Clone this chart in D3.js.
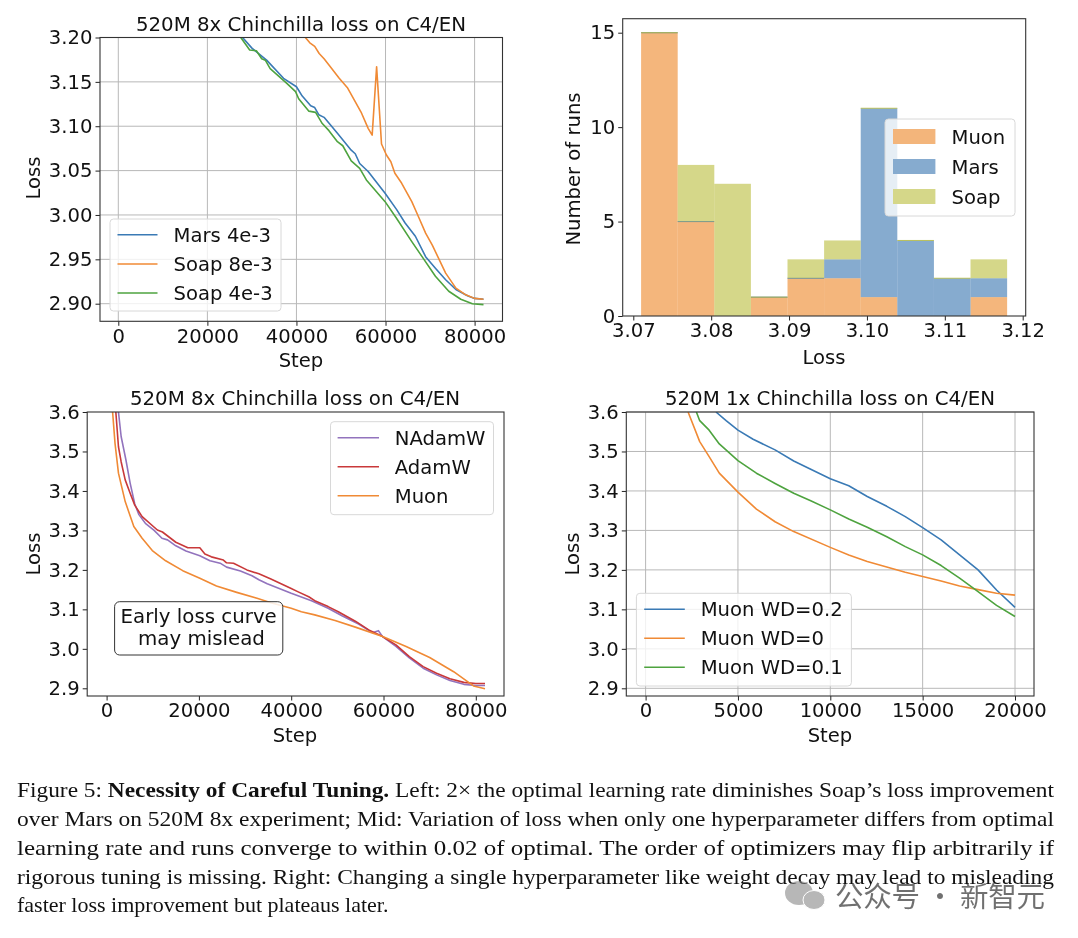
<!DOCTYPE html>
<html><head><meta charset="utf-8">
<script src="https://cdn.jsdelivr.net/npm/d3@7"></script>
<style>html,body{margin:0;padding:0;background:#fff}svg{display:block;filter:blur(0.35px)}text{font-family:"DejaVu Sans",sans-serif;fill:#111}</style>
</head><body><svg id="c" width="1078" height="938"></svg>
<script>
const panelTitles=["520M 8x Chinchilla loss on C4/EN","520M 8x Chinchilla loss on C4/EN","520M 1x Chinchilla loss on C4/EN"];
const stepTicks8x=[0,20000,40000,60000,80000];
const stepTicks1x=[0,5000,10000,15000,20000];
const lossTicksTop=[2.90,2.95,3.00,3.05,3.10,3.15,3.20];
const lossTicksWide=[2.9,3.0,3.1,3.2,3.3,3.4,3.5,3.6];
const histXTicks=[3.07,3.08,3.09,3.10,3.11,3.12];
const histYTicks=[0,5,10,15];
const binEdges=[3.0710,3.0757,3.0804,3.0851,3.0898,3.0945,3.0992,3.1039,3.1086,3.1133,3.1180];
const histMuon=[15,5,0,1,2,2,1,0,0,1];
const histMars=[0,0,0,0,0,1,10,4,2,1];
const histSoap=[0,3,7,0,1,1,0,0,0,1];
const mars4e3=[[27900,3.2],[30000,3.188],[33300,3.1745],[37100,3.154],[40000,3.1445],[41300,3.134],[43200,3.123],[44100,3.121],[45000,3.113],[46200,3.11],[49200,3.092],[52300,3.073],[53200,3.069],[54200,3.058],[56100,3.049],[59900,3.0245],[62500,3.006],[64400,2.991],[66700,2.976],[69000,2.953],[71200,2.94],[73500,2.927],[75800,2.916],[78400,2.909],[80000,2.906],[82000,2.905]];
const soap8e3=[[42000,3.2],[43000,3.194],[44100,3.19],[45100,3.182],[46200,3.176],[47300,3.169],[49600,3.154],[51500,3.143],[53000,3.1295],[54500,3.116],[56100,3.0976],[57000,3.09],[58000,3.167],[59100,3.08],[60200,3.0676],[61200,3.06],[62100,3.047],[63600,3.036],[65900,3.015],[67400,2.998],[69000,2.9795],[70500,2.966],[73500,2.9345],[75800,2.9176],[78000,2.91],[80000,2.906],[82000,2.905]];
const soap4e3=[[27500,3.2],[29500,3.186],[31000,3.185],[32200,3.176],[33000,3.1745],[34100,3.165],[37900,3.148],[39800,3.139],[40500,3.131],[42800,3.117],[44300,3.1156],[45800,3.103],[47300,3.095],[49200,3.0826],[50400,3.078],[52300,3.061],[54200,3.0526],[55700,3.0395],[59900,3.015],[62500,2.996],[65900,2.97],[68200,2.953],[71200,2.931],[74200,2.914],[76900,2.905],[79500,2.9],[82000,2.899]];
const nadamw=[[2570,3.6],[3150,3.538],[4180,3.479],[5100,3.42],[6100,3.367],[7000,3.34],[8400,3.318],[10300,3.3],[12000,3.28],[13200,3.276],[15000,3.261],[17200,3.248],[20200,3.236],[22400,3.223],[24600,3.217],[26000,3.207],[29000,3.197],[31500,3.185],[33000,3.175],[34800,3.165],[40000,3.141],[44400,3.122],[48000,3.103],[51000,3.084],[54600,3.063],[57600,3.041],[58900,3.046],[59800,3.031],[62700,3.006],[65600,2.977],[68600,2.951],[71500,2.934],[74400,2.92],[77400,2.91],[80000,2.907],[82000,2.907]];
const adamw=[[2000,3.6],[2570,3.512],[3150,3.474],[4030,3.428],[5100,3.394],[6100,3.364],[7700,3.335],[11000,3.301],[12100,3.296],[15000,3.27],[17600,3.256],[20200,3.256],[21300,3.24],[22700,3.233],[25300,3.225],[26000,3.218],[27500,3.217],[30400,3.2],[33000,3.19],[35600,3.177],[40000,3.153],[41400,3.145],[43800,3.132],[45100,3.122],[48000,3.107],[50200,3.094],[53900,3.07],[56800,3.048],[59800,3.031],[62700,3.01],[65600,2.98],[68600,2.955],[71500,2.938],[74400,2.924],[77400,2.915],[80000,2.912],[82000,2.912]];
const muon8x=[[1300,3.6],[1830,3.52],[2570,3.445],[4030,3.373],[5900,3.31],[7700,3.28],[9900,3.249],[12800,3.223],[16500,3.198],[20200,3.179],[23800,3.159],[28200,3.143],[32600,3.128],[35600,3.117],[40000,3.103],[42200,3.094],[45100,3.086],[49500,3.072],[53900,3.055],[59800,3.031],[64900,3.006],[70000,2.978],[75200,2.942],[79500,2.906],[82000,2.899]];
const wd02=[[3810,3.6],[4360,3.578],[5000,3.554],[5820,3.531],[7010,3.504],[8020,3.476],[8940,3.455],[10000,3.431],[11000,3.413],[12000,3.386],[13060,3.361],[14060,3.335],[15000,3.307],[16000,3.276],[17000,3.238],[18000,3.2],[19000,3.149],[20000,3.105]];
const wd0=[[2300,3.6],[2930,3.525],[3440,3.487],[3990,3.445],[5000,3.397],[6000,3.354],[7010,3.322],[8020,3.297],[10000,3.257],[11000,3.238],[12000,3.221],[13150,3.206],[14060,3.194],[15000,3.183],[16000,3.172],[17000,3.159],[18000,3.15],[19000,3.141],[20000,3.136]];
const wd01=[[2750,3.6],[2930,3.578],[3440,3.554],[3990,3.519],[5000,3.477],[6000,3.445],[7010,3.419],[8020,3.394],[8940,3.375],[10000,3.352],[11000,3.329],[12000,3.308],[13060,3.284],[14060,3.259],[15000,3.238],[16000,3.211],[17000,3.179],[18000,3.145],[19000,3.11],[20000,3.082]];
const captionLines=[
 [["Figure 5: ",0],["Necessity of Careful Tuning.",1],[" Left: 2× the optimal learning rate diminishes Soap’s loss improvement",0]],
 [["over Mars on 520M 8x experiment; Mid: Variation of loss when only one hyperparameter differs from optimal",0]],
 [["learning rate and runs converge to within 0.02 of optimal. The order of optimizers may flip arbitrarily if",0]],
 [["rigorous tuning is missing. Right: Changing a single hyperparameter like weight decay may lead to misleading",0]],
 [["faster loss improvement but plateaus later.",0]]];
const watermarkText="公众号 · 新智元";

const BLUE="#3a7ab5",ORANGE="#f08a35",GREEN="#4ea33f",PURPLE="#9273bd",RED="#c9393a";
const svg=d3.select("#c");
const defs=svg.append("defs");
const FS=19.6;
function frame(id,b,xs,ys,xt,yt,yf,opts){
  const g=svg.append("g");
  defs.append("clipPath").attr("id",id).append("rect").attr("x",b.l).attr("y",b.t).attr("width",b.r-b.l).attr("height",b.b-b.t);
  if(opts.grid){
    g.append("g").selectAll("line").data(xt).join("line").attr("x1",d=>xs(d)).attr("x2",d=>xs(d)).attr("y1",b.t).attr("y2",b.b).attr("stroke","#b8b8b8").attr("stroke-width",1);
    g.append("g").selectAll("line").data(yt).join("line").attr("x1",b.l).attr("x2",b.r).attr("y1",d=>ys(d)).attr("y2",d=>ys(d)).attr("stroke","#b8b8b8").attr("stroke-width",1);
  }
  const ax=svg.append("g");
  return {g,ax,finish(){
    const a=ax.append("g").attr("transform",`translate(0,${b.b})`).call(d3.axisBottom(xs).tickValues(xt).tickFormat(opts.xf).tickSize(4.5).tickPadding(3));
    const c=ax.append("g").attr("transform",`translate(${b.l},0)`).call(d3.axisLeft(ys).tickValues(yt).tickFormat(yf).tickSize(4.5).tickPadding(3));
    [a,c].forEach(s=>{s.select(".domain").remove();s.selectAll("text").attr("font-size",FS).attr("fill","#111").style("font-family",'"DejaVu Sans"');s.selectAll("line").attr("stroke","#222")});
    ax.append("rect").attr("x",b.l).attr("y",b.t).attr("width",b.r-b.l).attr("height",b.b-b.t).attr("fill","none").attr("stroke","#333").attr("stroke-width",1.1);
    ax.append("text").attr("x",opts.xlx).attr("y",opts.xly).attr("text-anchor","middle").attr("font-size",FS).text(opts.xl);
    ax.append("text").attr("transform",`translate(${opts.ylx},${opts.yly}) rotate(-90)`).attr("text-anchor","middle").attr("font-size",FS).text(opts.yl);
    if(opts.title)ax.append("text").attr("x",opts.tx).attr("y",opts.ty).attr("text-anchor","middle").attr("font-size",19.8).text(opts.title);
  }};
}
function drawLines(p,id,xs,ys,series){
  const line=d3.line().x(d=>xs(d[0])).y(d=>ys(d[1]));
  p.g.append("g").attr("clip-path",`url(#${id})`).selectAll("path").data(series).join("path")
    .attr("d",d=>line(d.v)).attr("fill","none").attr("stroke",d=>d.c).attr("stroke-width",1.6).attr("stroke-linejoin","round");
}
function legendBox(b){
  svg.append("rect").attr("x",b.x).attr("y",b.y).attr("width",b.w).attr("height",b.h).attr("rx",3.5)
    .attr("fill","#fff").attr("fill-opacity",.8).attr("stroke","#d8d8d8").attr("stroke-width",1);
}
function lineLegend(b,items,x0,x1,tx,ys){
  legendBox(b);
  items.forEach((it,i)=>{
    svg.append("line").attr("x1",x0).attr("x2",x1).attr("y1",ys[i]).attr("y2",ys[i]).attr("stroke",it[1]).attr("stroke-width",1.6);
    svg.append("text").attr("x",tx).attr("y",ys[i]+7).attr("font-size",FS).text(it[0]);
  });
}

// Panel 1
{
 const b={l:100,r:502.5,t:37.5,b:321.3};
 const xs=d3.scaleLinear().domain([0,80000]).range([118.3,474.6]);
 const ys=d3.scaleLinear().domain([2.9,3.2]).range([303.7,37.5]);
 const p=frame("p1",b,xs,ys,stepTicks8x,lossTicksTop,d3.format(".2f"),{grid:1,xf:d3.format("d"),xl:"Step",xlx:301,xly:367,yl:"Loss",ylx:40,yly:178,title:panelTitles[0],tx:301,ty:31});
 drawLines(p,"p1",xs,ys,[{v:mars4e3,c:BLUE},{v:soap8e3,c:ORANGE},{v:soap4e3,c:GREEN}]);
 p.finish();
 lineLegend({x:110,y:219,w:171,h:92},[["Mars 4e-3",BLUE],["Soap 8e-3",ORANGE],["Soap 4e-3",GREEN]],117.5,157.5,173.5,[234.7,264,293]);
}
// Panel 2
{
 const b={l:622.7,r:1025.7,t:18.7,b:316};
 const xs=d3.scaleLinear().domain([3.07,3.12]).range([633.3,1022.7]);
 const ys=d3.scaleLinear().domain([0,15]).range([316,32.7]);
 const p=frame("p2",b,xs,ys,histXTicks,histYTicks,d3.format("d"),{xf:d3.format(".2f"),xl:"Loss",xlx:824,xly:364,yl:"Number of runs",ylx:580,yly:169,});
 const stack=[{v:histMuon,c:"#ed8525"},{v:histMars,c:"#3573af"},{v:histSoap,c:"#b9bc3a"}];
 const base=histMuon.map(()=>0);
 stack.forEach(s=>{
   const rows=s.v.map((h,i)=>({x0:binEdges[i],x1:binEdges[i+1],y0:base[i],y1:base[i]+h}));
   s.v.forEach((h,i)=>base[i]+=h);
   p.g.append("g").selectAll("rect").data(rows.filter(d=>d.y1>d.y0)).join("rect")
     .attr("x",d=>xs(d.x0)).attr("width",d=>xs(d.x1)-xs(d.x0)).attr("y",d=>ys(d.y1)).attr("height",d=>ys(d.y0)-ys(d.y1))
     .attr("fill",s.c).attr("fill-opacity",.6);
   p.g.append("g").selectAll("line").data(rows.filter(d=>d.y1===d.y0&&d.y0>0)).join("line")
     .attr("x1",d=>xs(d.x0)).attr("x2",d=>xs(d.x1)).attr("y1",d=>ys(d.y0)).attr("y2",d=>ys(d.y0))
     .attr("stroke",s.c).attr("stroke-opacity",.8).attr("stroke-width",1);
 });
 p.finish();
 legendBox({x:885,y:119,w:130,h:97});
 [["Muon","#f3b57b",129],["Mars","#86abcf",159],["Soap","#d5d789",189]].forEach(r=>{
   svg.append("rect").attr("x",893).attr("y",r[2]).attr("width",42.4).attr("height",15).attr("fill",r[1]);
   svg.append("text").attr("x",951.5).attr("y",r[2]+14.5).attr("font-size",FS).text(r[0]);
 });
}
// Panel 3
{
 const b={l:87.2,r:504,t:412,b:696};
 const xs=d3.scaleLinear().domain([0,80000]).range([106.6,475.8]);
 const ys=d3.scaleLinear().domain([2.9,3.6]).range([688.3,412]);
 const p=frame("p3",b,xs,ys,stepTicks8x,lossTicksWide,d3.format(".1f"),{xf:d3.format("d"),xl:"Step",xlx:295,xly:742,yl:"Loss",ylx:40,yly:554,title:panelTitles[1],tx:295,ty:405});
 drawLines(p,"p3",xs,ys,[{v:nadamw,c:PURPLE},{v:adamw,c:RED},{v:muon8x,c:ORANGE}]);
 p.finish();
 lineLegend({x:330.5,y:421.7,w:163,h:93},[["NAdamW",PURPLE],["AdamW",RED],["Muon",ORANGE]],337.6,379,394.8,[437.7,466.7,495.7]);
 svg.append("rect").attr("x",114.6).attr("y",601.7).attr("width",168.2).attr("height",53.3).attr("rx",5).attr("fill","#fff").attr("fill-opacity",.85).attr("stroke","#333").attr("stroke-width",1);
 svg.append("text").attr("x",198.7).attr("y",623).attr("text-anchor","middle").attr("font-size",19.8).text("Early loss curve");
 svg.append("text").attr("x",201.5).attr("y",645).attr("text-anchor","middle").attr("font-size",19.8).text("may mislead");
}
// Panel 4
{
 const b={l:626.3,r:1034,t:412,b:696};
 const xs=d3.scaleLinear().domain([0,20000]).range([645.6,1015]);
 const ys=d3.scaleLinear().domain([2.9,3.6]).range([688.3,412]);
 const p=frame("p4",b,xs,ys,stepTicks1x,lossTicksWide,d3.format(".1f"),{grid:1,xf:d3.format("d"),xl:"Step",xlx:830,xly:742,yl:"Loss",ylx:579,yly:554,title:panelTitles[2],tx:830,ty:405});
 drawLines(p,"p4",xs,ys,[{v:wd02,c:BLUE},{v:wd0,c:ORANGE},{v:wd01,c:GREEN}]);
 p.finish();
 lineLegend({x:636.4,y:593.3,w:215,h:92.7},[["Muon WD=0.2",BLUE],["Muon WD=0",ORANGE],["Muon WD=0.1",GREEN]],644.2,684.8,700.7,[609.3,638.3,667.3]);
}
// Caption
const capY=[797,826,855,884,912];
const capW=[1037,1037,1037,1037,null];
captionLines.forEach((runs,i)=>{
  const t=svg.append("text").attr("x",17).attr("y",capY[i]).attr("font-size",22).style("font-family",'"Liberation Serif"').attr("fill","#111").style("white-space","pre");
  runs.forEach(r=>t.append("tspan").attr("font-weight",r[1]?"bold":"normal").text(r[0]));
  if(capW[i]){t.attr("textLength",capW[i]).attr("lengthAdjust","spacingAndGlyphs");}
});
// Watermark
const wm=svg.append("g").attr("opacity",.6);
wm.append("ellipse").attr("cx",799).attr("cy",893).attr("rx",14).attr("ry",12).attr("fill","#888");
wm.append("ellipse").attr("cx",814).attr("cy",900).attr("rx",11).attr("ry",9.5).attr("fill","#888").attr("stroke","#fff").attr("stroke-width",1);
wm.append("text").attr("x",835).attr("y",907).attr("font-size",28.5).attr("textLength",210).style("font-family",'"Noto Sans CJK SC"').attr("fill","#777").text(watermarkText);
</script></body></html>
